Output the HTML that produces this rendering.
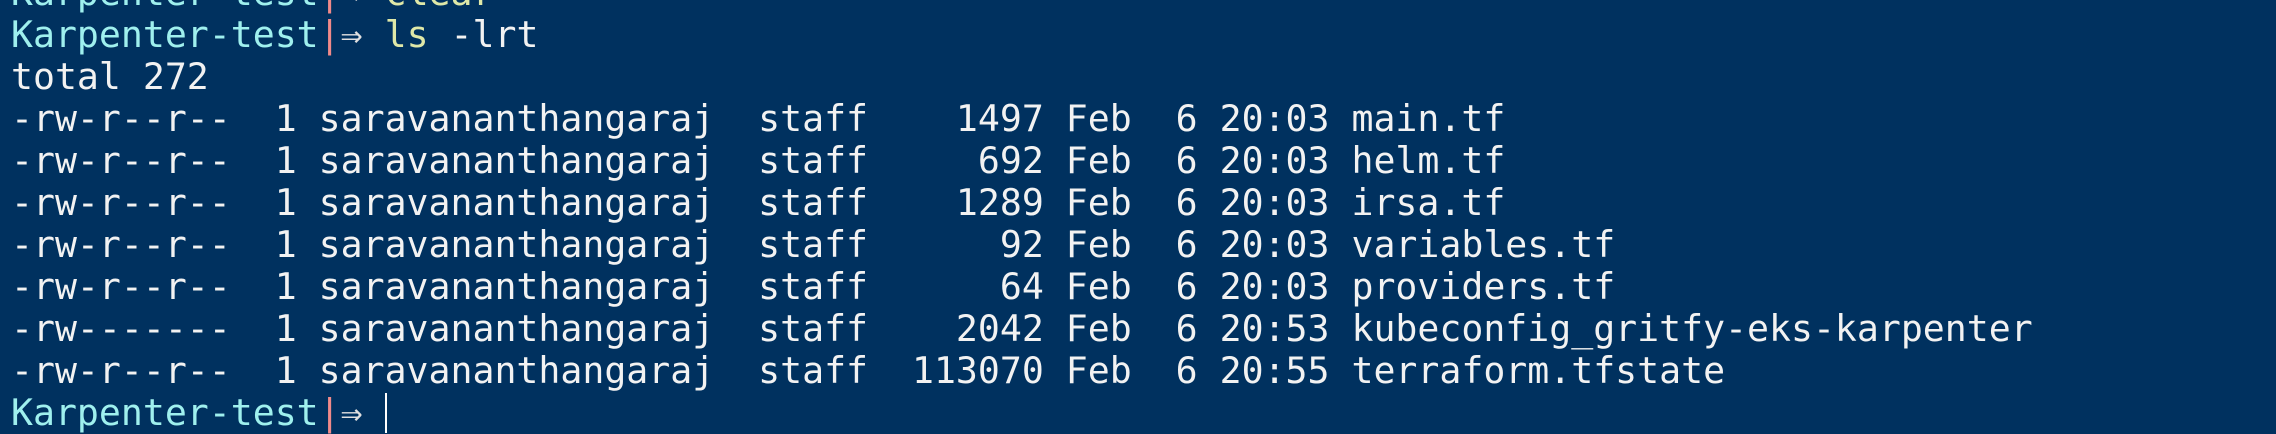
<!DOCTYPE html>
<html><head><meta charset="utf-8"><style>
html,body{margin:0;padding:0;width:2276px;height:402px;overflow:hidden;background:#00315f;}
pre{position:absolute;left:11px;top:-28px;margin:0;font-family:"DejaVu Sans Mono","Liberation Mono",monospace;font-size:36.5px;line-height:42px;color:#f2f2f2;}
.p{color:#9ff0ee}.s{color:#f08a8a}.a{color:#e0e0e0}.c{color:#dfe8a8}
.cur{display:inline-block;width:2px;height:40px;background:#fff;vertical-align:-8px}
</style></head><body>
<pre><span><span class="p">Karpenter-test</span><span class="s">|</span><span class="a">⇒</span> <span class="c">clear</span></span>
<span><span class="p">Karpenter-test</span><span class="s">|</span><span class="a">⇒</span> <span class="c">ls</span> -lrt</span>
<span>total 272</span>
<span>-rw-r--r--  1 saravananthangaraj  staff    1497 Feb  6 20:03 main.tf</span>
<span>-rw-r--r--  1 saravananthangaraj  staff     692 Feb  6 20:03 helm.tf</span>
<span>-rw-r--r--  1 saravananthangaraj  staff    1289 Feb  6 20:03 irsa.tf</span>
<span>-rw-r--r--  1 saravananthangaraj  staff      92 Feb  6 20:03 variables.tf</span>
<span>-rw-r--r--  1 saravananthangaraj  staff      64 Feb  6 20:03 providers.tf</span>
<span>-rw-------  1 saravananthangaraj  staff    2042 Feb  6 20:53 kubeconfig_gritfy-eks-karpenter</span>
<span>-rw-r--r--  1 saravananthangaraj  staff  113070 Feb  6 20:55 terraform.tfstate</span>
<span><span class="p">Karpenter-test</span><span class="s">|</span><span class="a">⇒</span> <span class="cur"></span></span></pre>
</body></html>
